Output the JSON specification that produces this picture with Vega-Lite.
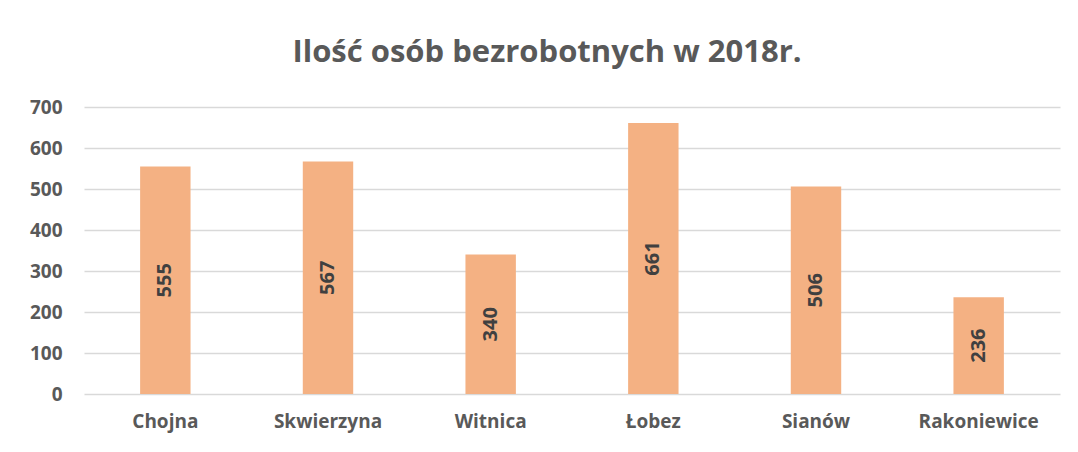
{
  "$schema": "https://vega.github.io/schema/vega-lite/v6.json",
  "width": 976,
  "height": 287,
  "autosize": "none",
  "padding": {"left": 84, "top": 107, "right": 18, "bottom": 58},
  "background": "white",
  "config": {
    "view": {"stroke": null},
    "font": "Open Sans"
  },
  "title": {
    "text": "Ilość osób bezrobotnych w 2018r.",
    "fontSize": 31,
    "fontWeight": "bold",
    "color": "#595959",
    "font": "Open Sans",
    "anchor": "middle",
    "dx": -25,
    "offset": 29
  },
  "data": {
    "values": [
      {"gmina": "Chojna", "value": 555},
      {"gmina": "Skwierzyna", "value": 567},
      {"gmina": "Witnica", "value": 340},
      {"gmina": "Łobez", "value": 661},
      {"gmina": "Sianów", "value": 506},
      {"gmina": "Rakoniewice", "value": 236}
    ]
  },
  "encoding": {
    "x": {
      "field": "gmina",
      "type": "nominal",
      "sort": null,
      "scale": {"paddingInner": 0.69, "paddingOuter": 0.345},
      "axis": {
        "title": null,
        "labelAngle": 0,
        "labelFontSize": 19,
        "labelFontWeight": "bold",
        "labelColor": "#595959",
        "labelPadding": 18,
        "ticks": false,
        "domain": false
      }
    }
  },
  "layer": [
    {
      "mark": {"type": "bar", "color": "#F4B183"},
      "encoding": {
        "y": {
          "field": "value",
          "type": "quantitative",
          "scale": {"domain": [0, 700]},
          "axis": {
            "title": null,
            "values": [0, 100, 200, 300, 400, 500, 600, 700],
            "labelFontSize": 19,
            "labelFontWeight": "bold",
            "labelColor": "#595959",
            "labelPadding": 22,
            "ticks": false,
            "domain": false,
            "gridColor": "#D9D9D9",
            "gridWidth": 1.5
          }
        }
      }
    },
    {
      "mark": {"type": "text", "angle": 270, "fontSize": 20, "fontWeight": "bold", "color": "#404040", "baseline": "middle", "align": "center"},
      "encoding": {
        "y": {
          "field": "value",
          "type": "quantitative",
          "scale": {"domain": [0, 1400]},
          "axis": null
        },
        "text": {"field": "value", "type": "quantitative"}
      }
    }
  ],
  "resolve": {"scale": {"y": "independent"}}
}
